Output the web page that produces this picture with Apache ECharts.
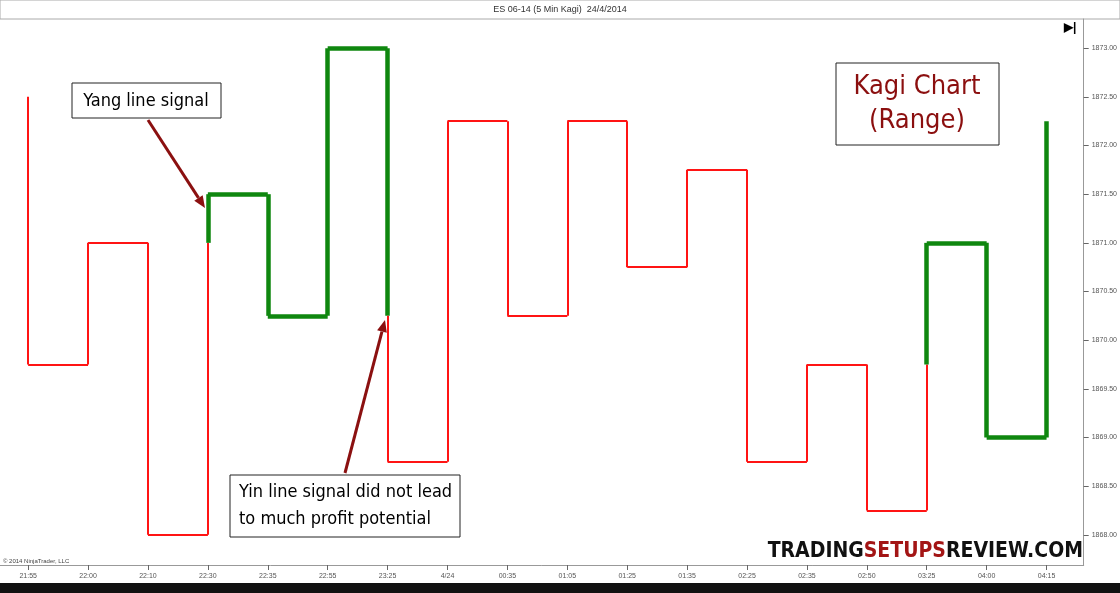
<!DOCTYPE html>
<html><head><meta charset="utf-8">
<script src="https://cdn.jsdelivr.net/npm/echarts@6/dist/echarts.min.js"></script>
<style>html,body{margin:0;padding:0;background:#fff}#c{width:1120px;height:593px}</style>
</head><body><div id="c"></div>
<script>
const categories = ['21:55','22:00','22:10','22:30','22:35','22:55','23:25','4/24','00:35','01:05','01:25','01:35','02:25','02:35','02:50','03:25','04:00','04:15'];
const startPrice = 1872.5;
const turnPrices = [1869.75,1871.0,1868.0,1871.5,1870.25,1873.0,1868.75,1872.25,1870.25,1872.25,1870.75,1871.75,1868.75,1869.75,1868.25,1871.0,1869.0,1872.25];
const yTicks = [1868,1868.5,1869,1869.5,1870,1870.5,1871,1871.5,1872,1872.5,1873];
const lastPrice = 1872.25;

const segs = [];
let yang = false, prev = startPrice, lastHigh = null, lastLow = null;
for (let i = 0; i < turnPrices.length; i++) {
  const p = turnPrices[i];
  if (i > 0) segs.push({coords:[[i-1,prev],[i,prev]], yang});
  if (p > prev) {
    if (lastHigh !== null && !yang && p > lastHigh) {
      segs.push({coords:[[i,prev],[i,lastHigh]], yang:false});
      segs.push({coords:[[i,lastHigh],[i,p]], yang:true}); yang = true;
    } else segs.push({coords:[[i,prev],[i,p]], yang});
    lastLow = prev;
  } else {
    if (lastLow !== null && yang && p < lastLow) {
      segs.push({coords:[[i,prev],[i,lastLow]], yang:true});
      segs.push({coords:[[i,lastLow],[i,p]], yang:false}); yang = false;
    } else segs.push({coords:[[i,prev],[i,p]], yang});
    lastHigh = prev;
  }
  prev = p;
}
const lineData = segs.map(s => ({coords:s.coords, lineStyle: s.yang ? {color:'#0f870f',width:4.5,opacity:1} : {color:'#ff1414',width:2,opacity:1}}));
const xIdx = categories.map((c,i)=>i);

const chart = echarts.init(document.getElementById('c'));
const dr = '#8b1010';
const cf = '"DejaVu Sans Condensed","Liberation Sans",Arial,sans-serif';
function arrow(x1,y1,x2,y2){
  const a = Math.atan2(y2-y1,x2-x1), L=12, W=5;
  const bx = x2-L*Math.cos(a), by = y2-L*Math.sin(a);
  return [
    {type:'line',shape:{x1,y1,x2:bx,y2:by},style:{stroke:dr,lineWidth:3},z:10},
    {type:'polygon',shape:{points:[[x2,y2],[bx+W*Math.sin(a),by-W*Math.cos(a)],[bx-W*Math.sin(a),by+W*Math.cos(a)]]},style:{fill:dr},z:10}
  ];
}
chart.setOption({
  animation:false,
  grid:{left:0,right:35,top:19,bottom:28},
  xAxis:{type:'value',min:-0.47,max:17.62,
    axisLine:{show:true,onZero:false,lineStyle:{color:'#999'}},
    axisTick:{show:true,customValues:xIdx,lineStyle:{color:'#666'}},
    splitLine:{show:false},
    axisLabel:{fontSize:7,color:'#555',fontFamily:'Arial',customValues:xIdx,
      formatter:v=>categories[Math.round(v)]||''}},
  yAxis:{type:'value',position:'right',min:1867.69,max:1873.3,
    axisLine:{show:true,onZero:false,lineStyle:{color:'#999'}},
    axisTick:{show:true,customValues:yTicks,lineStyle:{color:'#666'}},splitLine:{show:false},
    axisLabel:{fontSize:7,color:'#555',fontFamily:'Arial',customValues:yTicks,formatter:v=>v.toFixed(2)}},
  series:[{type:'lines',coordinateSystem:'cartesian2d',polyline:false,data:lineData,silent:true,
    markPoint:{symbol:'rect',symbolSize:[28,9],data:[{coord:[17.99,lastPrice],value:lastPrice.toFixed(2)}],
      itemStyle:{color:'#888'},label:{fontSize:7,color:'#fff',formatter:p=>p.value}}}],
  graphic:[
    {type:'rect',shape:{x:0,y:0,width:1120,height:19},style:{fill:'#fff',stroke:'#aaa',lineWidth:1}},
    {type:'text',x:560,y:10,style:{text:'ES 06-14 (5 Min Kagi)  24/4/2014',fontSize:9,fill:'#333',fontFamily:'Arial',align:'center',verticalAlign:'middle'}},
    {type:'rect',shape:{x:0,y:583,width:1120,height:10},style:{fill:'#111'}},
    {type:'text',x:1064,y:22,style:{text:'▶|',fontSize:12,fontWeight:'bold',fill:'#000'}},
    {type:'text',x:3,y:558,style:{text:'© 2014 NinjaTrader, LLC',fontSize:6,fill:'#444',fontFamily:'Arial'}},
    {type:'rect',shape:{x:72,y:83,width:149,height:35},style:{fill:'#fff',stroke:'#222',lineWidth:1},z:11},
    {type:'text',x:146,y:101,style:{text:'Yang line signal',fontSize:18,fill:'#000',fontFamily:cf,align:'center',verticalAlign:'middle'},z:12},
    ...arrow(148,120,205,208),
    {type:'rect',shape:{x:230,y:475,width:230,height:62},style:{fill:'#fff',stroke:'#222',lineWidth:1},z:11},
    {type:'text',x:239,y:506,style:{text:'Yin line signal did not lead\nto much profit potential',fontSize:18,lineHeight:27,fill:'#000',fontFamily:cf,verticalAlign:'middle'},z:12},
    ...arrow(345,473,385,320),
    {type:'rect',shape:{x:836,y:63,width:163,height:82},style:{fill:'#fff',stroke:'#222',lineWidth:1},z:11},
    {type:'text',x:917,y:104,style:{text:'Kagi Chart\n(Range)',fontSize:27,lineHeight:34,fill:'#8b0f0f',fontFamily:cf,align:'center',verticalAlign:'middle'},z:12},
    {type:'text',x:1083,y:552,style:{rich:{a:{fontSize:21,fontWeight:'bold',fill:'#111',fontFamily:cf},b:{fontSize:21,fontWeight:'bold',fill:'#a31515',fontFamily:cf}},
      text:'{a|TRADING}{b|SETUPS}{a|REVIEW.COM}',align:'right',verticalAlign:'middle'},z:12}
  ]
});
</script></body></html>
